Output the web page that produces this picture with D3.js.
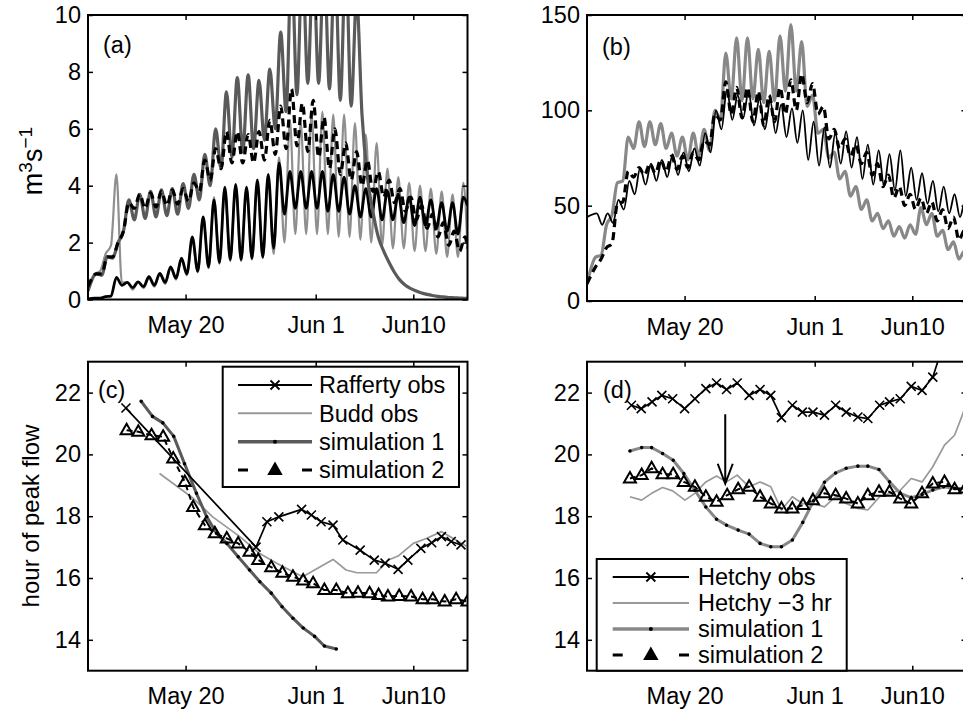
<!DOCTYPE html>
<html lang="en">
<head>
<meta charset="UTF-8">
<title>Discharge and hour of peak flow</title>
<script src="https://d3js.org/d3.v7.min.js"></script>
<style>
  body { margin: 0; background: #fff; }
  svg text { font-family: "Liberation Sans", Arial, Helvetica, sans-serif; fill: #000; }
</style>
</head>
<body>
<svg width="963" height="711"></svg>
<script>
// x axis: days after May 11 (0 = May 11, 35 = Jun 15)
const tickDays = [9, 21, 30];
const tickLabels = ["May 20", "Jun 1", "Jun10"];

// ---- (a) Rafferty / Budd discharge (m3/s), one trough and one peak per day
const aObsPhase = 0.62;   // time of daily peak, fraction of day
const aSimPhase = 0.77;
const aRaffPeak   = [0.05, 0.1, 0.78, 0.6, 0.62, 0.8, 0.92, 1.15, 1.45, 2.2, 2.9, 3.5, 3.95, 4.05, 3.95, 4.2, 4.4, 4.8, 4.5, 4.5, 4.5, 4.5, 4.4, 4.3, 4.0, 3.9, 3.9, 3.8, 3.7, 3.6, 3.6, 3.5, 3.4, 3.4, 3.6];
const aRaffTrough = [0.02, 0.05, 0.12, 0.5, 0.42, 0.45, 0.5, 0.6, 0.75, 0.9, 1.0, 1.15, 1.3, 1.4, 1.4, 1.45, 1.5, 1.8, 3.0, 3.2, 3.2, 3.2, 3.1, 3.1, 3.0, 2.9, 2.9, 2.8, 2.8, 2.7, 2.6, 2.6, 2.5, 2.4, 2.3, 3.3];
const aBuddPeak   = [0.9, 1.6, 4.4, 0.6, 0.6, 0.75, 0.9, 1.1, 1.4, 2.1, 2.9, 3.6, 3.9, 4.0, 3.9, 4.1, 4.3, 5.0, 6.3, 6.2, 6.5, 6.6, 6.5, 6.5, 6.2, 5.8, 5.5, 4.6, 4.3, 4.1, 4.0, 3.9, 3.8, 3.7, 4.1];
const aBuddTrough = [0.3, 1.0, 1.9, 0.6, 0.35, 0.4, 0.45, 0.55, 0.7, 0.85, 0.95, 1.1, 1.25, 1.35, 1.35, 1.4, 1.45, 1.6, 2.0, 2.3, 2.3, 2.3, 2.3, 2.2, 2.2, 2.1, 2.0, 1.9, 1.8, 1.8, 1.7, 1.7, 1.6, 1.5, 1.5, 1.8];
const aSim1Peak   = [0.9, 1.5, 2.0, 3.5, 3.7, 3.8, 3.85, 3.9, 4.07, 4.4, 5.1, 6.0, 7.3, 7.8, 7.9, 7.7, 8.1, 9.4, 12, 12, 12, 12, 12, 12, 10.6, 4.3, 2.2, 1.3, 0.68, 0.38, 0.23, 0.14, 0.09, 0.06, 0.04];
const aSim1Trough = [0.3, 0.85, 1.45, 2.4, 2.8, 2.85, 2.9, 2.95, 3.0, 3.2, 3.5, 4.0, 4.6, 5.0, 5.2, 5.3, 5.6, 6.0, 6.6, 7.2, 7.6, 7.6, 7.4, 7.0, 6.8, 6.5, 3.1, 1.7, 0.95, 0.5, 0.3, 0.18, 0.11, 0.07, 0.05, 0.04];
const aSim2Peak   = [0.9, 1.5, 2.0, 3.4, 3.7, 3.75, 3.8, 3.85, 3.9, 4.1, 4.9, 5.3, 5.9, 5.9, 5.8, 5.9, 6.3, 6.8, 7.4, 6.9, 7.0, 6.4, 6.0, 5.5, 5.2, 4.9, 4.5, 4.2, 3.9, 3.6, 3.3, 3.0, 2.7, 2.4, 2.2];
const aSim2Trough = [0.45, 0.9, 1.5, 2.4, 3.2, 3.2, 3.25, 3.3, 3.35, 3.45, 3.8, 4.2, 4.6, 4.8, 4.8, 4.8, 4.9, 5.1, 5.3, 5.4, 5.2, 5.0, 4.6, 4.4, 4.2, 4.0, 3.8, 3.6, 3.4, 3.1, 2.8, 2.5, 2.2, 1.9, 1.7, 1.8];

// ---- (b) Hetchy discharge (m3/s)
const bObsPhase = 0.9;
const bSimPhase = 0.8;
const bObsPeak    = [46, 46, 53, 63, 70, 72, 74, 77, 78, 80, 88, 100, 111, 108, 110, 106, 105, 103, 101, 100, 94, 91, 88, 89, 86, 82, 79, 77, 79, 70, 67, 63, 60, 56, 53];
const bObsTrough  = [44, 40, 41, 48, 56, 61, 63, 65, 66, 68, 71, 78, 90, 95, 96, 92, 90, 88, 86, 83, 74, 71, 70, 72, 70, 64, 61, 60, 58, 55, 53, 51, 47, 46, 44, 45];
const bSim1Peak   = [23, 40, 62, 86, 94, 94, 93, 88, 86, 88, 90, 100, 130, 138, 138, 132, 131, 139, 145, 136, 108, 90, 78, 68, 60, 53, 46, 42, 39, 40, 49, 46, 37, 31, 26];
const bSim1Trough = [9, 24, 45, 63, 80, 81, 82, 80, 76, 74, 76, 79, 95, 106, 105, 106, 104, 105, 110, 110, 102, 88, 75, 64, 55, 48, 42, 38, 34, 33, 35, 40, 34, 27, 22, 21];
const bSim2Peak   = [18, 28, 51, 68, 70, 72, 74, 76, 76, 78, 84, 98, 115, 112, 112, 110, 108, 112, 116, 119, 114, 102, 90, 85, 82, 78, 72, 66, 60, 56, 54, 52, 48, 44, 37];
const bSim2Trough = [9, 22, 30, 52, 65, 66, 67, 68, 69, 70, 74, 82, 95, 98, 96, 94, 92, 94, 98, 100, 104, 98, 85, 80, 76, 72, 66, 60, 54, 50, 48, 46, 42, 38, 32, 33];

// ---- (c) hour of peak flow, Rafferty / Budd
const raffDay  = [3.5, 15.5, 16.5, 17.6, 19.7, 20.6, 21.5, 22.6, 23.5, 25.1, 26.4, 27.4, 28.6, 29.5, 30.7, 31.7, 32.6, 33.5, 34.4];
const raffHour = [21.5, 17.0, 17.82, 17.98, 18.22, 18.04, 17.82, 17.71, 17.23, 16.9, 16.58, 16.48, 16.28, 16.58, 16.96, 17.14, 17.34, 17.18, 17.07];
const buddDay  = [6.6, 9.7, 11.5, 14.0, 15.8, 17.4, 19.8, 22.6, 23.8, 24.8, 26.6, 27.7, 28.6, 30.0, 31.2, 32.6, 33.7, 34.9];
const buddHour = [19.38, 18.58, 17.98, 17.34, 16.8, 16.48, 16.04, 16.6, 16.26, 16.17, 16.17, 16.58, 16.71, 17.12, 17.28, 17.5, 17.28, 17.03];
const cSim1Day  = [4.9, 5.95, 6.9, 7.9, 8.9, 10.0, 10.95, 11.85, 12.8, 13.85, 14.9, 15.85, 16.9, 17.9, 18.9, 19.85, 20.9, 21.8, 22.9];
const cSim1Hour = [21.72, 21.23, 21.02, 20.59, 19.7, 18.74, 17.98, 17.45, 17.12, 16.69, 16.26, 15.88, 15.51, 15.07, 14.7, 14.38, 14.11, 13.8, 13.7];
const cSim2Day  = [3.56, 4.64, 5.86, 6.93, 7.86, 8.93, 9.7, 10.78, 11.7, 12.8, 13.85, 14.9, 15.7, 16.9, 17.93, 18.9, 19.84, 20.76, 21.8, 22.9, 23.97, 24.9, 25.97, 26.8, 27.66, 28.7, 29.8, 30.86, 31.8, 32.9, 33.95, 35.0];
const cSim2Hour = [20.78, 20.73, 20.62, 20.57, 19.87, 19.11, 18.3, 17.71, 17.45, 17.28, 17.12, 16.85, 16.58, 16.35, 16.17, 16.04, 15.92, 15.83, 15.61, 15.61, 15.51, 15.52, 15.51, 15.45, 15.4, 15.42, 15.4, 15.31, 15.31, 15.24, 15.31, 15.24];

// ---- (d) hour of peak flow, Hetchy
const hetchyDay  = [4.1, 5.0, 6.0, 6.9, 7.9, 9.0, 9.95, 10.96, 11.95, 12.87, 13.85, 14.95, 15.96, 16.95, 17.93, 18.94, 19.86, 20.84, 21.9, 22.93, 23.9, 24.98, 25.9, 26.99, 27.9, 28.89, 29.9, 30.9, 31.89, 32.9];
const hetchyHour = [21.59, 21.48, 21.7, 21.91, 21.8, 21.48, 21.8, 22.13, 22.31, 22.1, 22.31, 21.91, 22.1, 21.91, 21.19, 21.59, 21.37, 21.37, 21.27, 21.59, 21.37, 21.21, 21.16, 21.59, 21.7, 21.8, 22.2, 22.07, 22.5, 23.6];
const hetchy3Day  = [3.96, 5.04, 5.96, 6.97, 7.9, 9.03, 9.95, 10.96, 11.95, 12.87, 13.85, 14.95, 15.96, 16.95, 17.93, 18.94, 19.86, 20.84, 21.9, 22.93, 23.9, 24.98, 25.9, 26.99, 27.9, 28.89, 29.9, 30.9, 31.89, 32.97, 33.9, 34.67, 35.2];
const hetchy3Hour = [18.63, 18.52, 18.74, 18.93, 18.82, 18.52, 18.74, 19.11, 19.3, 19.11, 19.33, 18.95, 19.11, 18.95, 18.2, 18.63, 18.41, 18.41, 18.3, 18.63, 18.41, 18.25, 18.2, 18.63, 18.74, 18.84, 19.22, 19.11, 19.6, 20.3, 20.62, 21.32, 22.0];
const dSim1Day  = [3.96, 5.04, 5.96, 6.97, 7.95, 8.93, 9.95, 10.96, 11.95, 12.87, 13.94, 14.95, 15.96, 16.95, 17.93, 18.94, 19.9, 20.9, 21.9, 22.93, 23.9, 24.98, 25.9, 26.93, 27.9, 28.89, 29.9, 30.9, 31.9, 32.9, 33.9, 34.9];
const dSim1Hour = [20.11, 20.22, 20.22, 20.03, 19.81, 19.38, 18.84, 18.3, 17.9, 17.71, 17.55, 17.42, 17.12, 17.01, 17.01, 17.23, 17.8, 18.5, 19.1, 19.4, 19.55, 19.62, 19.62, 19.51, 19.11, 18.74, 18.6, 18.7, 18.85, 18.95, 18.9, 18.9];
const dSim2Day  = [3.96, 5.04, 5.96, 6.97, 7.95, 8.93, 9.95, 10.96, 11.95, 12.93, 13.94, 14.95, 15.96, 16.95, 17.93, 18.94, 19.92, 20.84, 21.9, 22.93, 23.9, 24.98, 25.9, 26.93, 27.9, 28.89, 29.9, 30.9, 31.89, 32.97, 33.9, 34.9];
const dSim2Hour = [19.22, 19.33, 19.55, 19.36, 19.36, 19.11, 18.95, 18.63, 18.47, 18.68, 18.87, 18.95, 18.63, 18.41, 18.25, 18.25, 18.36, 18.52, 18.74, 18.68, 18.57, 18.41, 18.68, 18.79, 18.79, 18.57, 18.41, 18.74, 19.06, 19.11, 18.87, 18.9];

// arrow in (d): day, from hour, to hour
const arrowDay = 12.75, arrowFrom = 21.3, arrowTo = 19.05;

const black = "#000", lightGray = "#999", darkGray = "#5a5a5a", midGray = "#888";
const fontSize = 23.5;
const plotW = 379.5;
const svg = d3.select("svg");

// build a daily cycle: trough, peak, trough, ...
function diurnal(peaks, troughs, phase) {
  const pts = [];
  troughs.forEach((v, i) => {
    let t = i === 0 ? 0 : i + phase - 0.5;
    pts.push([Math.min(t, 35), v]);
    if (i < peaks.length) pts.push([i + phase, peaks[i]]);
  });
  return pts;
}
const zip = (days, vals) => days.map((d, i) => [d, vals[i]]);

function makePanel(name, left, top, bottom, yDomain, yTicks) {
  const x = d3.scaleLinear().domain([0, 35]).range([left, left + plotW]);
  const y = d3.scaleLinear().domain(yDomain).range([bottom, top]);
  svg.append("clipPath").attr("id", "clip-" + name)
    .append("rect").attr("x", left).attr("y", top)
    .attr("width", plotW).attr("height", bottom - top);
  const g = svg.append("g").attr("clip-path", `url(#clip-${name})`);
  return { name, left, top, bottom, x, y, g, yTicks };
}

function styleAxis(sel) {
  sel.select(".domain").remove();
  sel.selectAll(".tick line").attr("stroke", black).attr("stroke-width", 1.5);
  sel.selectAll(".tick text").attr("font-size", fontSize)
    .attr("font-family", "Liberation Sans, Arial, sans-serif").attr("fill", black);
}

function drawAxes(P) {
  svg.append("g").attr("transform", `translate(0,${P.bottom})`)
    .call(d3.axisBottom(P.x).tickValues(tickDays).tickFormat((d, i) => tickLabels[i])
      .tickSizeInner(-5).tickSizeOuter(0).tickPadding(17))
    .call(styleAxis);
  svg.append("g").attr("transform", `translate(0,${P.top})`)
    .call(d3.axisTop(P.x).tickValues(tickDays).tickFormat("").tickSizeInner(-5).tickSizeOuter(0))
    .call(styleAxis);
  svg.append("g").attr("transform", `translate(${P.left},0)`)
    .call(d3.axisLeft(P.y).tickValues(P.yTicks).tickSizeInner(-5).tickSizeOuter(0).tickPadding(7))
    .call(styleAxis);
  svg.append("g").attr("transform", `translate(${P.left + plotW},0)`)
    .call(d3.axisRight(P.y).tickValues(P.yTicks).tickFormat("").tickSizeInner(-5).tickSizeOuter(0))
    .call(styleAxis);
  svg.append("rect").attr("x", P.left).attr("y", P.top)
    .attr("width", plotW).attr("height", P.bottom - P.top)
    .attr("fill", "none").attr("stroke", black).attr("stroke-width", 2);
}

function drawLine(P, pts, color, width, dash, curve) {
  P.g.append("path").datum(pts)
    .attr("fill", "none").attr("stroke", color).attr("stroke-width", width)
    .attr("stroke-dasharray", dash || null)
    .attr("stroke-linejoin", "round")
    .attr("d", d3.line().x(d => P.x(d[0])).y(d => P.y(d[1])).curve(curve || d3.curveLinear));
}

const crossPath = "M-4.5,-4.5L4.5,4.5M-4.5,4.5L4.5,-4.5";
const triPath = "M0,-6.5L6,4L-6,4Z";

function drawMarkers(P, pts, kind) {
  const sel = P.g.append("g").selectAll("path").data(pts).join("path")
    .attr("transform", d => `translate(${P.x(d[0])},${P.y(d[1])})`);
  if (kind === "cross") sel.attr("d", crossPath).attr("stroke", black).attr("stroke-width", 1.6).attr("fill", "none");
  if (kind === "tri") sel.attr("d", triPath).attr("stroke", black).attr("stroke-width", 2).attr("fill", "none");
  if (kind === "dot") sel.attr("d", d3.symbol(d3.symbolCircle, 10)()).attr("fill", black);
}

function panelLabel(txt, x, y) {
  svg.append("text").attr("x", x).attr("y", y).attr("font-size", fontSize).text(txt);
}

function drawLegend(box, rows, x0, x1, textX, entries) {
  svg.append("rect").attr("x", box[0]).attr("y", box[1]).attr("width", box[2]).attr("height", box[3])
    .attr("fill", "#fff").attr("stroke", black).attr("stroke-width", 2);
  entries.forEach((e, i) => {
    const y = rows[i];
    const len = x1 - x0;
    svg.append("line").attr("x1", x0).attr("x2", x1).attr("y1", y).attr("y2", y)
      .attr("stroke", e.color).attr("stroke-width", e.width)
      .attr("stroke-dasharray", e.dash ? `10,${len - 20},10` : null);
    const mx = (x0 + x1) / 2;
    if (e.marker === "cross") svg.append("path").attr("d", crossPath).attr("transform", `translate(${mx},${y})`)
      .attr("stroke", black).attr("stroke-width", 1.8).attr("fill", "none");
    if (e.marker === "tri") svg.append("path").attr("d", triPath).attr("transform", `translate(${mx},${y})`)
      .attr("stroke", black).attr("stroke-width", 2).attr("fill", black);
    if (e.marker === "dot") svg.append("circle").attr("cx", mx).attr("cy", y).attr("r", 2).attr("fill", black);
    svg.append("text").attr("x", textX).attr("y", y).attr("dy", "0.36em")
      .attr("font-size", fontSize).text(e.label);
  });
}

// ---------- panel (a)
const A = makePanel("a", 88, 15, 299.5, [0, 10], [0, 2, 4, 6, 8, 10]);
drawLine(A, diurnal(aBuddPeak, aBuddTrough, aObsPhase), "#8f8f8f", 2.2, null, d3.curveMonotoneX);
drawLine(A, diurnal(aRaffPeak, aRaffTrough, aObsPhase), black, 2.8, null, d3.curveMonotoneX);
drawLine(A, diurnal(aSim1Peak, aSim1Trough, aSimPhase), darkGray, 3.2, null, d3.curveMonotoneX);
drawLine(A, diurnal(aSim2Peak, aSim2Trough, aSimPhase), black, 3.2, "8,5", d3.curveMonotoneX);
drawAxes(A);
panelLabel("(a)", 103, 53);
svg.append("text").attr("transform", "translate(42,161) rotate(-90)")
  .attr("text-anchor", "middle").attr("font-size", 27)
  .call(t => {
    t.append("tspan").text("m");
    t.append("tspan").attr("baseline-shift", "super").attr("font-size", 19).text("3");
    t.append("tspan").text("s");
    t.append("tspan").attr("baseline-shift", "super").attr("font-size", 19).text("\u22121");
  });

// ---------- panel (b)
const B = makePanel("b", 587, 15, 301, [0, 150], [0, 50, 100, 150]);
drawLine(B, diurnal(bSim1Peak, bSim1Trough, bSimPhase), midGray, 3.2, null, d3.curveMonotoneX);
drawLine(B, diurnal(bObsPeak, bObsTrough, bObsPhase), black, 1.8, null, d3.curveMonotoneX);
drawLine(B, diurnal(bSim2Peak, bSim2Trough, bSimPhase), black, 3.2, "8,5", d3.curveMonotoneX);
drawAxes(B);
panelLabel("(b)", 602, 55);

// ---------- panel (c)
const C = makePanel("c", 88, 361.7, 670.7, [13, 23], [14, 16, 18, 20, 22]);
drawLine(C, zip(buddDay, buddHour), lightGray, 1.7);
drawLine(C, zip(cSim1Day, cSim1Hour), darkGray, 3);
drawMarkers(C, zip(cSim1Day, cSim1Hour), "dot");
drawLine(C, zip(raffDay, raffHour), black, 1.7);
drawMarkers(C, zip(raffDay, raffHour), "cross");
drawLine(C, zip(cSim2Day, cSim2Hour), black, 2, "6,4");
drawMarkers(C, zip(cSim2Day, cSim2Hour), "tri");
drawAxes(C);
panelLabel("(c)", 98, 398);
svg.append("text").attr("transform", "translate(38.5,516) rotate(-90)")
  .attr("text-anchor", "middle").attr("font-size", 24).text("hour of peak flow");
drawLegend([222.7, 366.7, 236.3, 120.3], [385, 413.3, 441.7, 470], 238, 312, 319, [
  { label: "Rafferty obs", color: black, width: 2, marker: "cross" },
  { label: "Budd obs", color: lightGray, width: 2 },
  { label: "simulation 1", color: darkGray, width: 3.5, marker: "dot" },
  { label: "simulation 2", color: black, width: 3, dash: true, marker: "tri" }
]);

// ---------- panel (d)
const D = makePanel("d", 587, 361.7, 670.7, [13, 23], [14, 16, 18, 20, 22]);
drawLine(D, zip(hetchy3Day, hetchy3Hour), lightGray, 1.7);
drawLine(D, zip(dSim1Day, dSim1Hour), midGray, 3);
drawMarkers(D, zip(dSim1Day, dSim1Hour), "dot");
drawLine(D, zip(hetchyDay, hetchyHour), black, 1.7);
drawMarkers(D, zip(hetchyDay, hetchyHour), "cross");
drawLine(D, zip(dSim2Day, dSim2Hour), black, 2, "6,4");
drawMarkers(D, zip(dSim2Day, dSim2Hour), "tri");
// arrow
const ax = D.x(arrowDay), ay0 = D.y(arrowFrom), ay1 = D.y(arrowTo);
svg.append("path")
  .attr("d", `M${ax},${ay0}L${ax},${ay1}M${ax - 7.5},${ay1 - 20}L${ax},${ay1}L${ax + 7.5},${ay1 - 20}`)
  .attr("fill", "none").attr("stroke", black).attr("stroke-width", 2);
drawAxes(D);
panelLabel("(d)", 603, 398);
drawLegend([596.7, 559, 250, 111.7], [577, 603, 629, 655], 612.7, 689, 698, [
  { label: "Hetchy obs", color: black, width: 2, marker: "cross" },
  { label: "Hetchy \u22123 hr", color: lightGray, width: 2 },
  { label: "simulation 1", color: midGray, width: 3.5, marker: "dot" },
  { label: "simulation 2", color: black, width: 3, dash: true, marker: "tri" }
]);
</script>
</body>
</html>
